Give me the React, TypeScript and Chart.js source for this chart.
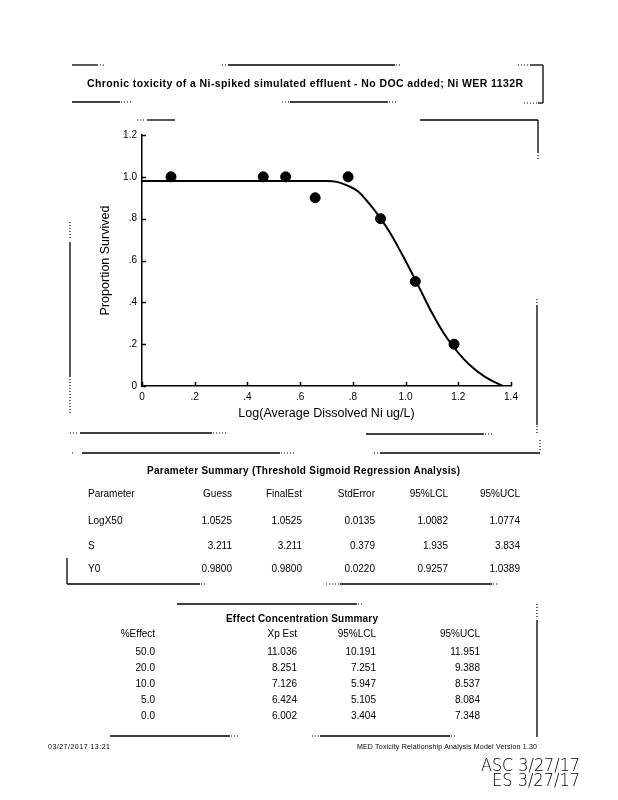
import React, { useEffect, useRef } from "react";
import { Chart, registerables } from "chart.js";

Chart.register(...registerables);

// ---- chart data ----
const obsX = [0.11, 0.46, 0.545, 0.657, 0.782, 0.905, 1.037, 1.184];
const obsY = [1.0, 1.0, 1.0, 0.9, 1.0, 0.8, 0.5, 0.2];
const fitX = [0, 0.1, 0.2, 0.3, 0.4, 0.5, 0.6, 0.7, 0.74, 0.78, 0.82, 0.86, 0.9, 0.94, 0.98, 1.02, 1.06, 1.1, 1.14, 1.18, 1.22, 1.26, 1.3, 1.34, 1.37];
const fitY = [0.98, 0.98, 0.98, 0.98, 0.98, 0.98, 0.98, 0.98, 0.976, 0.958, 0.93, 0.875, 0.81, 0.735, 0.645, 0.55, 0.45, 0.35, 0.262, 0.19, 0.13, 0.082, 0.045, 0.017, 0];
const xTickLabels = ["0", ".2", ".4", ".6", ".8", "1.0", "1.2", "1.4"];
const yTickLabels = ["0", ".2", ".4", ".6", ".8", "1.0", "1.2"];

const titleText = "Chronic toxicity of a Ni-spiked simulated effluent - No DOC added; Ni WER 1132R";
const xTitle = "Log(Average Dissolved Ni ug/L)";
const yTitle = "Proportion Survived";

// ---- parameter summary ----
const paramTitle = "Parameter Summary (Threshold Sigmoid Regression Analysis)";
const paramHeaders = ["Parameter", "Guess", "FinalEst", "StdError", "95%LCL", "95%UCL"];
const paramNames = ["LogX50", "S", "Y0"];
const paramGuess = ["1.0525", "3.211", "0.9800"];
const paramFinal = ["1.0525", "3.211", "0.9800"];
const paramStdErr = ["0.0135", "0.379", "0.0220"];
const paramLCL = ["1.0082", "1.935", "0.9257"];
const paramUCL = ["1.0774", "3.834", "1.0389"];

// ---- effect concentration summary ----
const effectTitle = "Effect Concentration Summary";
const effectHeaders = ["%Effect", "Xp Est", "95%LCL", "95%UCL"];
const effectPct = ["50.0", "20.0", "10.0", "5.0", "0.0"];
const effectXp = ["11.036", "8.251", "7.126", "6.424", "6.002"];
const effectLCL = ["10.191", "7.251", "5.947", "5.105", "3.404"];
const effectUCL = ["11.951", "9.388", "8.537", "8.084", "7.348"];

const footerLeft = "03/27/2017    13:21";
const footerRight = "MED Toxicity Relationship Analysis Model  Version 1.30";
const sign1 = "ASC 3/27/17";
const sign2 = "ES 3/27/17";

const FONT = "'Liberation Sans', Arial, sans-serif";

const innerTicks = {
  id: "innerTicks",
  afterDraw(chart: any) {
    const { ctx, chartArea, scales } = chart;
    ctx.save();
    ctx.strokeStyle = "#000";
    ctx.lineWidth = 1.5;
    scales.x.ticks.forEach((t: any) => {
      const px = Math.round(scales.x.getPixelForValue(t.value)) + 0.5;
      ctx.beginPath();
      ctx.moveTo(px, chartArea.bottom);
      ctx.lineTo(px, chartArea.bottom - 4);
      ctx.stroke();
    });
    scales.y.ticks.forEach((t: any) => {
      const py = Math.round(scales.y.getPixelForValue(t.value)) + 0.5;
      ctx.beginPath();
      ctx.moveTo(chartArea.left, py);
      ctx.lineTo(chartArea.left + 4, py);
      ctx.stroke();
    });
    ctx.restore();
  },
};

function ChartBox() {
  const ref = useRef<HTMLCanvasElement | null>(null);
  useEffect(() => {
    if (!ref.current) return;
    const chart = new Chart(ref.current, {
      type: "scatter",
      data: {
        datasets: [
          {
            type: "line",
            data: fitX.map((x, i) => ({ x, y: fitY[i] })),
            borderColor: "#000",
            borderWidth: 2,
            pointRadius: 0,
            cubicInterpolationMode: "monotone",
            fill: false,
          } as any,
          {
            type: "scatter",
            data: obsX.map((x, i) => ({ x, y: obsY[i] })),
            backgroundColor: "#000",
            borderColor: "#000",
            pointRadius: 5,
          },
        ],
      },
      options: {
        animation: false,
        responsive: false,
        layout: { padding: { left: 30, right: 29, top: 20, bottom: 0 } },
        plugins: { legend: { display: false }, tooltip: { enabled: false } },
        scales: {
          x: {
            type: "linear",
            min: 0,
            max: 1.4,
            grid: { display: false, drawTicks: false },
            border: { display: true, color: "#000", width: 1.5 },
            ticks: {
              stepSize: 0.2,
              color: "#000",
              padding: 5,
              maxRotation: 0,
              font: { family: FONT, size: 10 },
              callback: (_v: any, i: number) => xTickLabels[i],
            },
            title: {
              display: true,
              text: xTitle,
              color: "#000",
              font: { family: FONT, size: 12.5 },
              padding: { top: 0, bottom: 9 },
            },
            afterFit: (s: any) => {
              s.height = 44;
            },
          },
          y: {
            type: "linear",
            min: 0,
            max: 1.2,
            grid: { display: false, drawTicks: false },
            border: { display: true, color: "#000", width: 1.5 },
            ticks: {
              stepSize: 0.2,
              color: "#000",
              padding: 5,
              font: { family: FONT, size: 10 },
              callback: (_v: any, i: number) => yTickLabels[i],
            },
            title: {
              display: true,
              text: yTitle,
              color: "#000",
              font: { family: FONT, size: 12.5 },
              padding: { top: 8, bottom: 0 },
            },
            afterFit: (s: any) => {
              s.width = 52;
            },
          },
        },
      },
      plugins: [innerTicks],
    });
    return () => chart.destroy();
  }, []);
  return (
    <canvas
      ref={ref}
      width={480}
      height={315}
      style={{ position: "absolute", left: 60, top: 115, width: 480, height: 315 }}
    />
  );
}

type Seg = [number, number, number, number];
const solid: Seg[] = [
  // title box
  [72, 65, 98, 65], [228, 65, 395, 65], [530, 65, 543, 65], [543, 65, 543, 103],
  [72, 102, 120, 102], [290, 102, 388, 102], [538, 103, 543, 103],
  // chart frame
  [147, 120, 175, 120], [420, 120, 538, 120], [538, 120, 538, 153],
  [70, 242, 70, 377], [537, 305, 537, 425],
  [80, 433, 212, 433], [366, 434, 484, 434],
  // parameter table
  [82, 453, 280, 453], [380, 453, 540, 453],
  [67, 558, 67, 584], [67, 584, 200, 584], [340, 584, 492, 584],
  // effect table
  [177, 604, 357, 604], [537, 620, 537, 737],
  [110, 736, 230, 736], [320, 736, 450, 736],
];
const dotted: Seg[] = [
  [100, 65, 105, 65], [222, 65, 227, 65], [396, 65, 401, 65], [518, 65, 529, 65],
  [121, 102, 131, 102], [282, 102, 289, 102], [389, 102, 396, 102], [524, 103, 537, 103],
  [137, 120, 146, 120], [538, 155, 538, 160],
  [70, 222, 70, 240], [70, 379, 70, 414], [537, 299, 537, 304], [537, 426, 537, 433],
  [70, 433, 79, 433], [213, 433, 226, 433], [485, 434, 494, 434],
  [72, 453, 75, 453], [281, 453, 294, 453], [374, 453, 379, 453], [540, 440, 540, 452],
  [201, 584, 206, 584], [326, 584, 339, 584], [493, 584, 498, 584],
  [358, 604, 363, 604], [537, 604, 537, 619],
  [231, 736, 239, 736], [312, 736, 319, 736], [451, 736, 456, 736],
];

function Page() {
  const paramCols = [232, 302, 375, 448, 520];
  const paramRowsY = [524, 549, 572];
  const paramVals = [paramGuess, paramFinal, paramStdErr, paramLCL, paramUCL];
  const effCols = [155, 297, 376, 480];
  const effRowsY = [655, 671, 687, 703, 719];
  const effVals = [effectPct, effectXp, effectLCL, effectUCL];
  const t = { fontFamily: FONT, fill: "#000" } as any;
  return (
    <svg
      width={618}
      height={800}
      style={{ position: "absolute", left: 0, top: 0, pointerEvents: "none" }}
    >
      {solid.map((s, i) => (
        <line key={"s" + i} x1={s[0]} y1={s[1]} x2={s[2]} y2={s[3]} stroke="#000" strokeWidth={1.3} />
      ))}
      {dotted.map((s, i) => (
        <line key={"d" + i} x1={s[0]} y1={s[1]} x2={s[2]} y2={s[3]} stroke="#000" strokeWidth={1.2} strokeDasharray="1 2" />
      ))}
      <text x={87} y={87} {...t} fontSize={10.5} fontWeight="bold" textLength={436} lengthAdjust="spacing">
        {titleText}
      </text>

      <text x={147} y={474} {...t} fontSize={10} fontWeight="bold" textLength={313} lengthAdjust="spacing">
        {paramTitle}
      </text>
      <text x={88} y={497} {...t} fontSize={10}>{paramHeaders[0]}</text>
      {paramHeaders.slice(1).map((h, i) => (
        <text key={"ph" + i} x={paramCols[i]} y={497} {...t} fontSize={10} textAnchor="end">{h}</text>
      ))}
      {paramNames.map((n, r) => (
        <g key={"pr" + r}>
          <text x={88} y={paramRowsY[r]} {...t} fontSize={10}>{n}</text>
          {paramVals.map((col, c) => (
            <text key={c} x={paramCols[c]} y={paramRowsY[r]} {...t} fontSize={10} textAnchor="end">{col[r]}</text>
          ))}
        </g>
      ))}

      <text x={226} y={622} {...t} fontSize={10} fontWeight="bold" textLength={152} lengthAdjust="spacing">
        {effectTitle}
      </text>
      {effectHeaders.map((h, i) => (
        <text key={"eh" + i} x={effCols[i]} y={637} {...t} fontSize={10} textAnchor="end">{h}</text>
      ))}
      {effectPct.map((_p, r) => (
        <g key={"er" + r}>
          {effVals.map((col, c) => (
            <text key={c} x={effCols[c]} y={effRowsY[r]} {...t} fontSize={10} textAnchor="end">{col[r]}</text>
          ))}
        </g>
      ))}

      <text x={48} y={749} {...t} fontSize={7} textLength={62} lengthAdjust="spacing">{footerLeft}</text>
      <text x={357} y={749} {...t} fontSize={7} textLength={180} lengthAdjust="spacing">{footerRight}</text>

      <text x={481} y={771} fontFamily="'DejaVu Sans', sans-serif" fontWeight={200} fontSize={17} fill="#000" textLength={99} lengthAdjust="spacingAndGlyphs">{sign1}</text>
      <text x={492} y={786} fontFamily="'DejaVu Sans', sans-serif" fontWeight={200} fontSize={17} fill="#000" textLength={88} lengthAdjust="spacingAndGlyphs">{sign2}</text>
    </svg>
  );
}

export default function App() {
  return (
    <div style={{ position: "absolute", left: 0, top: 0, width: 618, height: 800, background: "#fff", overflow: "hidden" }}>
      <ChartBox />
      <Page />
    </div>
  );
}
